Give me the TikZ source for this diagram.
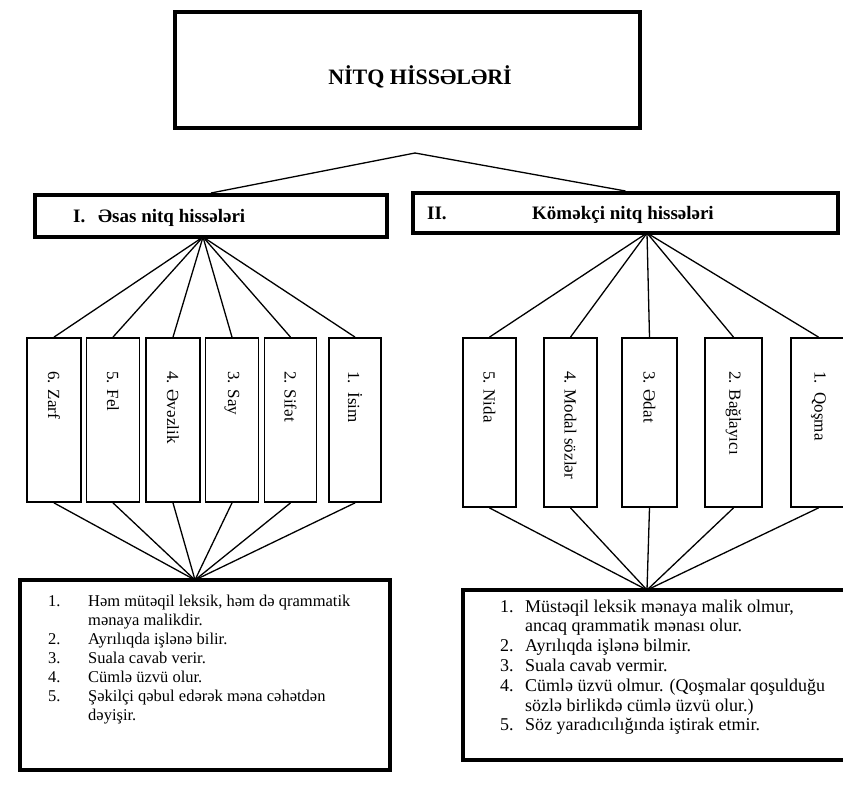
\documentclass[tikz,border=0pt]{standalone}
\usepackage{fontspec}
\setmainfont{Liberation Serif}
\usetikzlibrary{calc}
\tikzset{
  thickbox/.style={draw, line width=4pt, inner sep=0pt},
  topbox/.style={draw, line width=4.5pt, inner sep=0pt},
  vbox/.style={draw, line width=1.8pt, inner sep=0pt},
  conn/.style={line width=1.3pt},
  vlabel/.style={rotate=-90, anchor=west, inner sep=0pt, font=\fontsize{17}{20}\selectfont},
  headtxt/.style={anchor=base west, inner sep=0pt, font=\fontsize{19}{22}\selectfont\bfseries},
}
\begin{document}
\begin{tikzpicture}[x=1pt,y=-1pt]
\useasboundingbox (0,0) rectangle (843,787);
\clip (0,0) rectangle (843,787);
\fill[white] (0,0) rectangle (843,787);

% top box
\node[topbox, minimum width=465pt, minimum height=116pt] (top) at (407.5,70) {};
\node[inner sep=0pt, font=\fontsize{22}{26}\selectfont\bfseries] (title) at (420,77) {NİTQ HİSSƏLƏRİ};

% headers
\node[thickbox, minimum width=352pt, minimum height=42pt] (hL) at (211,216) {};
\node[headtxt] (hLn) at (73,222) {I.};
\node[headtxt] (hLt) at (98,222) {Əsas nitq hissələri};
\node[thickbox, minimum width=425pt, minimum height=40pt] (hR) at (625.5,213) {};
\node[headtxt] (hRn) at (427,219) {II.};
\node[headtxt] (hRt) at (532,219) {Köməkçi nitq hissələri};

\coordinate (apex) at (415,153);
\draw[conn] (apex) -- (hL.north);
\draw[conn] (apex) -- (hR.north);

% left vertical boxes
\foreach \n/\x/\w/\t in {L6/54/54/{6. Zarf}, L5/113/53/{5. Fel}, L4/173/54/{4. Əvəzlik}, L3/232/53/{3. Say}, L2/290.5/52/{2. Sifət}, L1/355/52/{1.\ \ İsim}}{
  \node[vbox, minimum width=\w pt, minimum height=164pt] (\n) at (\x,420) {};
  \node[vlabel] (\n t) at ($(\n.north)+(0,34)$) {\t};
}
% right vertical boxes
\foreach \n/\x/\w/\t in {R5/489.5/53/{5. Nida}, R4/570.5/53/{4. Modal sözlər}, R3/649.5/55/{3. Ədat}, R2/733.5/57/{2. Bağlayıcı}, R1/818.5/55/{1.\ \ Qoşma}}{
  \node[vbox, minimum width=\w pt, minimum height=169pt] (\n) at (\x,422.5) {};
  \node[vlabel] (\n t) at ($(\n.north)+(0,34)$) {\t};
}

% bottom boxes
\node[thickbox, minimum width=370pt, minimum height=190pt] (bL) at (205,675) {};
\node[thickbox, minimum width=407pt, minimum height=170pt] (bR) at (666.5,675) {};

% fan coordinates
\coordinate (fL) at (203,237);
\coordinate (fR) at (647,233);
\coordinate (gL) at (195,580);
\coordinate (gR) at (647,590);

\foreach \n in {L1,L2,L3,L4,L5,L6}{
  \draw[conn] (fL) -- (\n.north);
  \draw[conn] (\n.south) -- (gL);
}
\foreach \n in {R1,R2,R3,R4,R5}{
  \draw[conn] (fR) -- (\n.north);
  \draw[conn] (\n.south) -- (gR);
}

% list texts
\node[anchor=base west, inner sep=0pt, font=\fontsize{16.5}{19}\selectfont] (lL) at (48,606) {%
\begin{tabular}[t]{@{}p{40pt}@{}l@{}}
1. & Həm mütəqil leksik, həm də qrammatik\\
   & mənaya malikdir.\\
2. & Ayrılıqda işlənə bilir.\\
3. & Suala cavab verir.\\
4. & Cümlə üzvü olur.\\
5. & Şəkilçi qəbul edərək məna cəhətdən\\
   & dəyişir.
\end{tabular}};
\node[anchor=base west, inner sep=0pt, font=\fontsize{18}{19.8}\selectfont] (lR) at (500,612) {%
\begin{tabular}[t]{@{}p{25pt}@{}l@{}}
1. & Müstəqil leksik mənaya malik olmur,\\
   & ancaq qrammatik mənası olur.\\
2. & Ayrılıqda işlənə bilmir.\\
3. & Suala cavab vermir.\\
4. & Cümlə üzvü olmur. (Qoşmalar qoşulduğu\\
   & sözlə birlikdə cümlə üzvü olur.)\\
5. & Söz yaradıcılığında iştirak etmir.
\end{tabular}};
\end{tikzpicture}
\end{document}
